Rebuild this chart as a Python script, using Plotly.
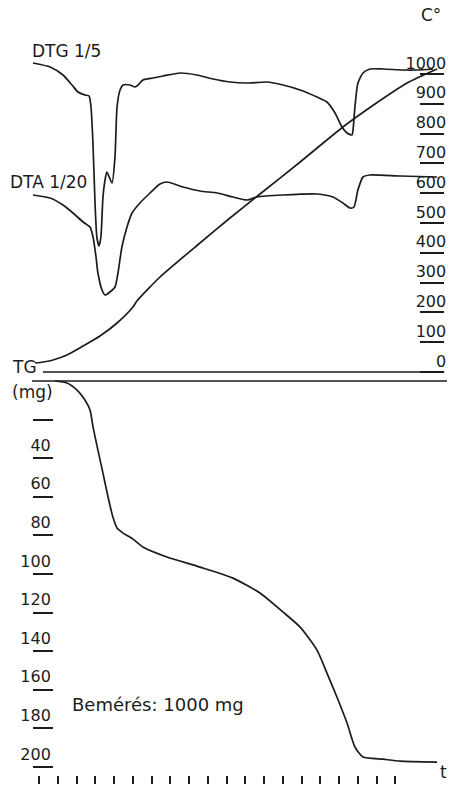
import plotly.graph_objects as go

# ---------------- data ----------------
# time axis: 22 equally spaced time marks
time_ticks = list(range(0, 22))

# DTG 1/5 : relative deflection (arbitrary units) vs time
dtg_t = [-0.32, 0.59, 1.28, 1.76, 2.08, 2.45, 2.67, 2.77, 2.88, 2.99, 3.09, 3.20, 3.30, 3.41,
         3.52, 3.62, 3.89, 4.05, 4.16, 4.32, 4.48, 4.85, 5.12, 5.28, 5.54, 6.08, 6.61, 7.52,
         8.42, 9.28, 10.18, 11.09, 12.15, 13.01, 13.92, 14.82, 15.35, 15.78, 16.15, 16.42,
         16.68, 16.74, 16.84, 17.00, 17.27, 17.64, 18.34, 19.40, 20.15, 21.00]
dtg_s = [118.5, 116.5, 112.5, 107.5, 104.0, 102.5, 102.0, 96.5, 77.5, 47.5, 31.0, 27.0, 31.5, 51.5,
         60.0, 64.0, 58.5, 71.5, 96.5, 105.0, 107.5, 107.5, 106.5, 107.5, 110.0, 111.0, 112.0, 113.5,
         112.5, 110.5, 109.0, 108.5, 109.0, 107.5, 105.0, 101.5, 99.0, 93.5, 86.5, 83.5,
         82.5, 85.0, 96.5, 108.5, 113.5, 115.5, 115.5, 115.0, 115.0, 115.5]

# DTA 1/20 : relative deflection (arbitrary units) vs time
dta_t = [-0.32, 0.59, 1.28, 1.81, 2.35, 2.72, 2.88, 3.04, 3.14, 3.36, 3.52, 3.78, 4.05, 4.21,
         4.42, 4.69, 4.96, 5.38, 5.92, 6.45, 6.82, 7.68, 8.58, 9.49, 10.34, 11.09, 11.62, 13.01,
         14.82, 15.67, 16.20, 16.58, 16.79, 17.00, 17.27, 17.64, 19.24, 21.22]
dta_s = [52.5, 51.0, 47.5, 43.5, 39.0, 36.5, 31.5, 21.5, 13.5, 5.0, 2.5, 4.0, 6.5, 13.5,
         26.5, 36.5, 43.5, 48.5, 53.5, 58.0, 59.0, 56.5, 54.5, 53.5, 51.5, 50.0, 51.5, 52.5,
         53.0, 51.5, 48.5, 46.0, 46.5, 55.0, 61.5, 62.5, 62.0, 61.5]

# temperature curve (°C) vs time
temp_t = [-0.21, 0.21, 0.75, 1.49, 2.35, 3.25, 4.16, 5.01, 5.22, 6.45, 8.58, 10.18, 11.78,
          13.92, 16.20, 17.91, 19.62, 21.22]
temp_c = [30.2, 33.6, 40.3, 57.0, 87.2, 120.8, 164.4, 218.1, 238.3, 318.8, 432.9, 516.8, 597.3,
          704.7, 822.1, 899.3, 969.8, 1016.8]

# TG : mass loss (mg) vs time
tg_t = [0.85, 1.49, 2.03, 2.45, 2.72, 2.88, 3.14, 3.41, 3.68, 3.94, 4.16, 4.48, 5.01, 5.54,
        6.82, 8.58, 10.34, 11.78, 13.01, 13.92, 14.82, 15.35, 15.88, 16.42, 16.84, 17.27,
        18.34, 19.24, 21.22]
tg_mg = [0.0, 1.0, 4.7, 9.8, 15.0, 23.8, 35.8, 47.7, 60.1, 70.5, 76.2, 78.8, 81.9, 86.0,
         91.2, 96.4, 102.1, 109.8, 119.7, 127.5, 139.4, 151.3, 163.7, 177.2, 189.6, 194.8,
         195.9, 196.9, 197.4]

# baselines
temp_base_t = [0.21, 21.6]
temp_base_c = [0, 0]
tg_base_t = [-0.37, 21.75]
tg_base_mg = [0, 0]

# tick labels
temp_ticks = [0, 100, 200, 300, 400, 500, 600, 700, 800, 900, 1000]
temp_ticktext = ["0", "100", "200", "300", "400", "500", "600", "700", "800", "900", "1000"]
tg_ticks = [20, 40, 60, 80, 100, 120, 140, 160, 180, 200]
tg_ticktext = ["", "40", "60", "80", "100", "120", "140", "160", "180", "200"]

# ---------------- figure ----------------
W, H = 449, 791
INK = "#1c1c1c"
FONT = "DejaVu Sans"
LW = 1.7

fig = go.Figure()
fig.add_trace(go.Scatter(x=dtg_t, y=dtg_s, mode="lines", yaxis="y3",
                         line=dict(color=INK, width=LW, shape="spline", smoothing=0.6), name="DTG"))
fig.add_trace(go.Scatter(x=dta_t, y=dta_s, mode="lines", yaxis="y3",
                         line=dict(color=INK, width=LW, shape="spline", smoothing=0.6), name="DTA"))
fig.add_trace(go.Scatter(x=temp_t, y=temp_c, mode="lines", yaxis="y2",
                         line=dict(color=INK, width=LW, shape="spline", smoothing=0.6), name="T"))
fig.add_trace(go.Scatter(x=temp_base_t, y=temp_base_c, mode="lines", yaxis="y2",
                         line=dict(color=INK, width=1.3), name="T0"))
fig.add_trace(go.Scatter(x=tg_t, y=tg_mg, mode="lines", yaxis="y",
                         line=dict(color=INK, width=LW, shape="spline", smoothing=0.6), name="TG"))
fig.add_trace(go.Scatter(x=tg_base_t, y=tg_base_mg, mode="lines", yaxis="y",
                         line=dict(color=INK, width=1.3), name="TG0"))

tickfont = dict(family=FONT, size=16, color=INK)

fig.update_layout(
    template="none",
    width=W, height=H,
    margin=dict(l=0, r=0, t=0, b=0, pad=0),
    paper_bgcolor="white", plot_bgcolor="white",
    showlegend=False,
    xaxis=dict(range=[-2.079, 21.855], domain=[0, 1], anchor="free", position=7 / H,
               tickvals=time_ticks, ticks="inside", ticklen=8, tickwidth=1.8, tickcolor=INK,
               showticklabels=False, showgrid=False, zeroline=False, showline=False,
               automargin=False, fixedrange=True),
    yaxis=dict(range=[212.4, -197.4], domain=[0, 1], anchor="free", position=53 / W, side="left",
               tickvals=tg_ticks, ticktext=tg_ticktext, ticks="outside", ticklen=20,
               tickwidth=1.5, tickcolor=INK, tickfont=tickfont,
               ticklabelstandoff=-21, ticklabelshift=13,
               showgrid=False, zeroline=False, showline=False, automargin=False),
    yaxis2=dict(range=[-1406.0, 1248.3], domain=[0, 1], overlaying="y", anchor="free",
                position=444 / W, side="right",
                tickvals=temp_ticks, ticktext=temp_ticktext, ticks="inside", ticklen=24,
                tickwidth=1.5, tickcolor=INK, tickfont=tickfont,
                ticklabelposition="inside", ticklabelstandoff=-26, ticklabelshift=-11,
                showgrid=False, zeroline=False, showline=False, automargin=False),
    yaxis3=dict(range=[-245.5, 150.0], domain=[0, 1], overlaying="y", anchor="free",
                position=0, visible=False),
)

def label(text, px, py, anchor="left", size=17):
    fig.add_annotation(text=text, x=px / W, y=1 - py / H, xref="paper", yref="paper",
                       xanchor=anchor, yanchor="middle", showarrow=False,
                       font=dict(family=FONT, size=size, color=INK))

label("C°", 443, 15, "right")
label("DTG 1/5", 30, 51)
label("DTA 1/20", 8, 182)
label("TG", 10, 367)
label("(mg)", 10, 392)
label("Bemérés: 1000 mg", 70, 704, size=18)
label("t", 449, 772, "right")

fig.write_html("out.html")
